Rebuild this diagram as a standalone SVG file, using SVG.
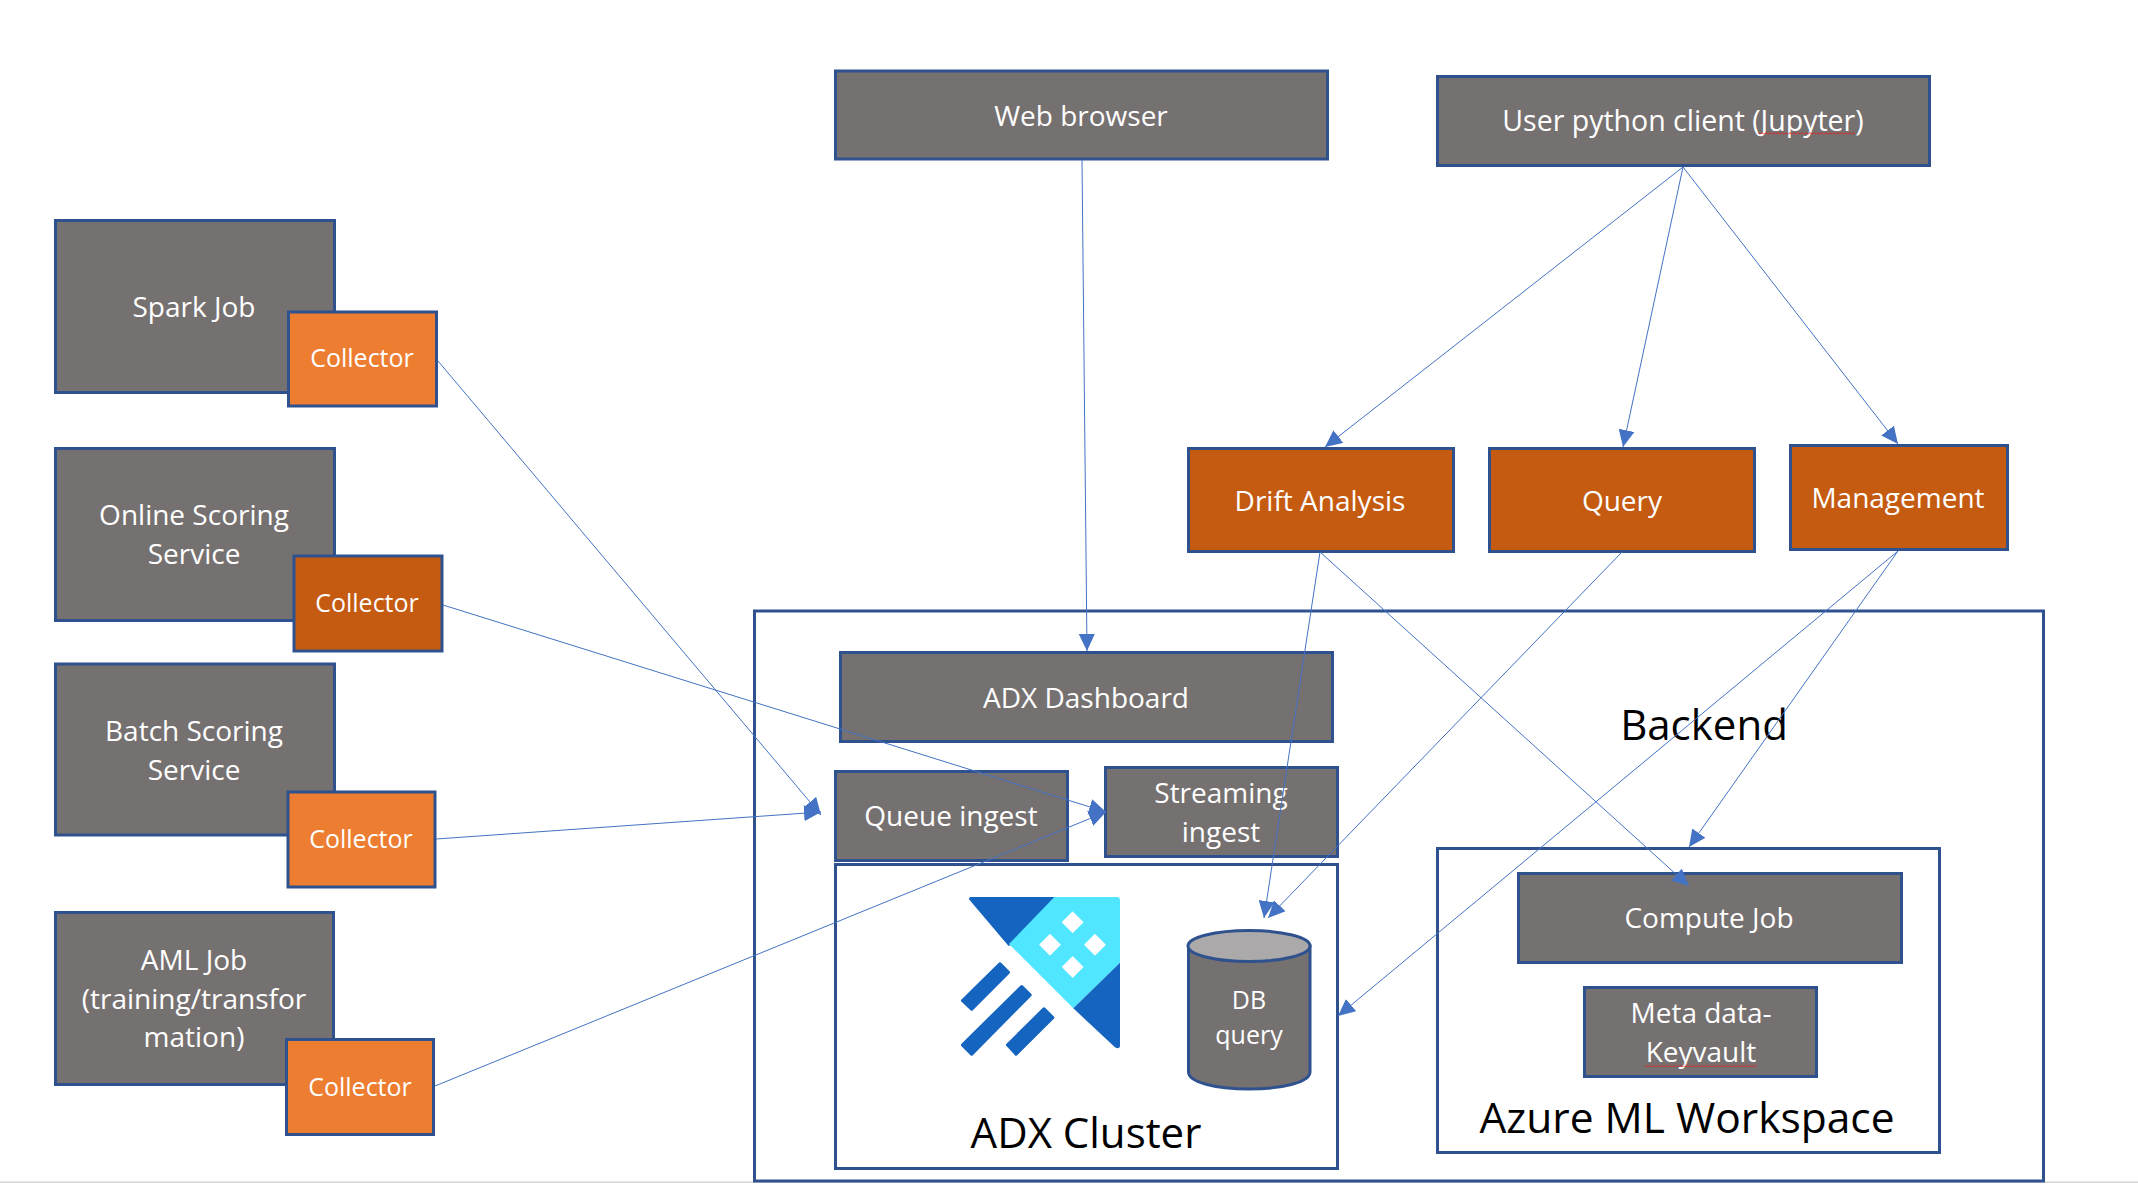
<svg xmlns="http://www.w3.org/2000/svg" width="2138" height="1184" viewBox="0 0 2138 1184">
<defs>
<style>
.b{stroke:#2F528F;stroke-width:3}
.g{fill:#767171}.o{fill:#ED7D31}.d{fill:#C55A11}.w{fill:#fff}
text{font-family:"Open Sans","Noto Sans","Liberation Sans",sans-serif}
.t{fill:#fff;font-size:28px;text-anchor:middle}
.s{fill:#fff;font-size:25px;text-anchor:middle}
.h{fill:#000;font-size:42px;text-anchor:middle}
.c line{stroke:#4472C4;stroke-width:1;marker-end:url(#a)}
.ld{fill:#1565C0;stroke:#1565C0;stroke-linejoin:round}
</style>
<marker id="a" markerUnits="userSpaceOnUse" markerWidth="18" markerHeight="16" refX="17" refY="8" orient="auto"><path d="M0 0L17 8L0 16Z" fill="#4472C4"/></marker>
<pattern id="sq" patternUnits="userSpaceOnUse" width="4" height="3"><path d="M0 2.500L2 .5L4 2.500" fill="none" stroke="#E02020" stroke-width="1"/></pattern>
</defs>
<rect width="2138" height="1184" fill="#fff"/>
<rect x="0" y="1181.500" width="2138" height="1.500" fill="#D4D4D4"/>
<g id="backend"><rect class="b w" x="754.500" y="611" width="1289" height="570"/><text class="h" x="1704" y="740">Backend</text></g>
<g id="spark-job"><rect class="b g" x="55.500" y="220.500" width="279" height="172"/><text class="t" x="194" y="317">Spark Job</text></g>
<g id="spark-collector"><rect class="b o" x="288.500" y="312" width="148" height="94"/><text class="s" x="362" y="367">Collector</text></g>
<g id="online-job"><rect class="b g" x="55.500" y="448.500" width="279" height="172"/><text class="t" x="194" y="525">Online Scoring</text><text class="t" x="194" y="564">Service</text></g>
<g id="online-collector"><rect class="b d" x="294" y="556" width="148" height="95"/><text class="s" x="367" y="612">Collector</text></g>
<g id="batch-job"><rect class="b g" x="55.500" y="664" width="279" height="171"/><text class="t" x="194" y="741">Batch Scoring</text><text class="t" x="194" y="780">Service</text></g>
<g id="batch-collector"><rect class="b o" x="288" y="792" width="147" height="95"/><text class="s" x="361" y="848">Collector</text></g>
<g id="aml-job"><rect class="b g" x="55.500" y="912.500" width="278" height="172"/><text class="t" x="194" y="970">AML Job</text><text class="t" x="194" y="1009">(training/transfor</text><text class="t" x="194" y="1047">mation)</text></g>
<g id="aml-collector"><rect class="b o" x="286.500" y="1039.500" width="147" height="95"/><text class="s" x="360" y="1096">Collector</text></g>
<g id="web-browser"><rect class="b g" x="835.500" y="71" width="492" height="88"/><text class="t" x="1081" y="126">Web browser</text></g>
<g id="user-client"><rect class="b g" x="1437.500" y="76.500" width="492" height="89"/><text class="t" x="1683" y="131" style="font-size:28.500px">User python client (Jupyter)</text><rect x="1758" y="132" width="97" height="3" fill="url(#sq)"/></g>
<g id="drift"><rect class="b d" x="1188.500" y="448.500" width="265" height="103"/><text class="t" x="1320" y="511">Drift Analysis</text></g>
<g id="query"><rect class="b d" x="1489.500" y="448.500" width="265" height="103"/><text class="t" x="1622" y="511">Query</text></g>
<g id="management"><rect class="b d" x="1790.500" y="445.500" width="217" height="104"/><text class="t" x="1898" y="508">Management</text></g>
<g id="adx-dashboard"><rect class="b g" x="840.500" y="652.500" width="492" height="89"/><text class="t" x="1086" y="708">ADX Dashboard</text></g>
<g id="queue-ingest"><rect class="b g" x="835.500" y="771.500" width="232" height="89"/><text class="t" x="951" y="826">Queue ingest</text></g>
<g id="streaming-ingest"><rect class="b g" x="1105.500" y="767.500" width="232" height="89"/><text class="t" x="1221" y="803">Streaming</text><text class="t" x="1221" y="842">ingest</text></g>
<g id="adx-cluster"><rect class="b w" x="835.500" y="864.500" width="502" height="304"/><text class="h" x="1086" y="1148">ADX Cluster</text>
<g transform="translate(930 850) scale(.3333)">
<path d="M122 146H373L237 282Z" class="ld" style="stroke-width:10"/>
<path d="M373 141H560Q570 141 570 151V338L430 475L237 282Z" fill="#50E6FF"/>
<path d="M570 338V585Q570 600 555 592L430 475Z" fill="#1565C0"/>
<path d="M428 187L458 217L428 247L398 217ZM360 254L390 284L360 314L330 284ZM495 254L525 284L495 314L465 284ZM428 321L458 351L428 381L398 351Z" fill="#fff" stroke="#fff" stroke-width="4" stroke-linejoin="round"/>
<path d="M98 452L210 342L235 367L125 477ZM98 585L275 410L300 435L125 612ZM233 585L342 477L368 503L258 612Z" class="ld" style="stroke-width:10"/>
</g></g>
<g id="db-query"><path class="b g" d="M1188.500 946V1072C1188.500 1082 1215 1089 1249 1089C1283 1089 1310 1082 1310 1072V946Z"/><ellipse class="b" fill="#ABA9A9" cx="1249" cy="946" rx="61" ry="15.500"/><text class="s" x="1249" y="1009">DB</text><text class="s" x="1249" y="1044">query</text></g>
<g id="aml-workspace"><rect class="b w" x="1437.500" y="848.500" width="502" height="304"/><text class="h" x="1687" y="1133" style="font-size:42.500px">Azure ML Workspace</text></g>
<g id="compute-job"><rect class="b g" x="1518.500" y="873.500" width="383" height="89"/><text class="t" x="1709" y="928">Compute Job</text></g>
<g id="meta-data"><rect class="b g" x="1584.500" y="987.500" width="232" height="89"/><text class="t" x="1701" y="1023">Meta data-</text><text class="t" x="1701" y="1062">Keyvault</text><rect x="1645" y="1064" width="112" height="3" fill="url(#sq)"/></g>
<g id="connectors" class="c">
<line x1="438" y1="361" x2="821" y2="815"/>
<line x1="436" y1="839" x2="821" y2="812"/>
<line x1="443" y1="605" x2="1106" y2="812"/>
<line x1="435" y1="1086" x2="1106" y2="812"/>
<line x1="1082" y1="160" x2="1087" y2="651"/>
<line x1="1683" y1="167" x2="1325" y2="447"/>
<line x1="1683" y1="167" x2="1623" y2="447"/>
<line x1="1683" y1="167" x2="1898" y2="444"/>
<line x1="1320" y1="552" x2="1689" y2="886"/>
<line x1="1320" y1="552" x2="1264" y2="918"/>
<line x1="1622" y1="552" x2="1268" y2="918"/>
<line x1="1898" y1="551" x2="1689" y2="847"/>
<line x1="1898" y1="551" x2="1338" y2="1016"/>
</g>
</svg>
